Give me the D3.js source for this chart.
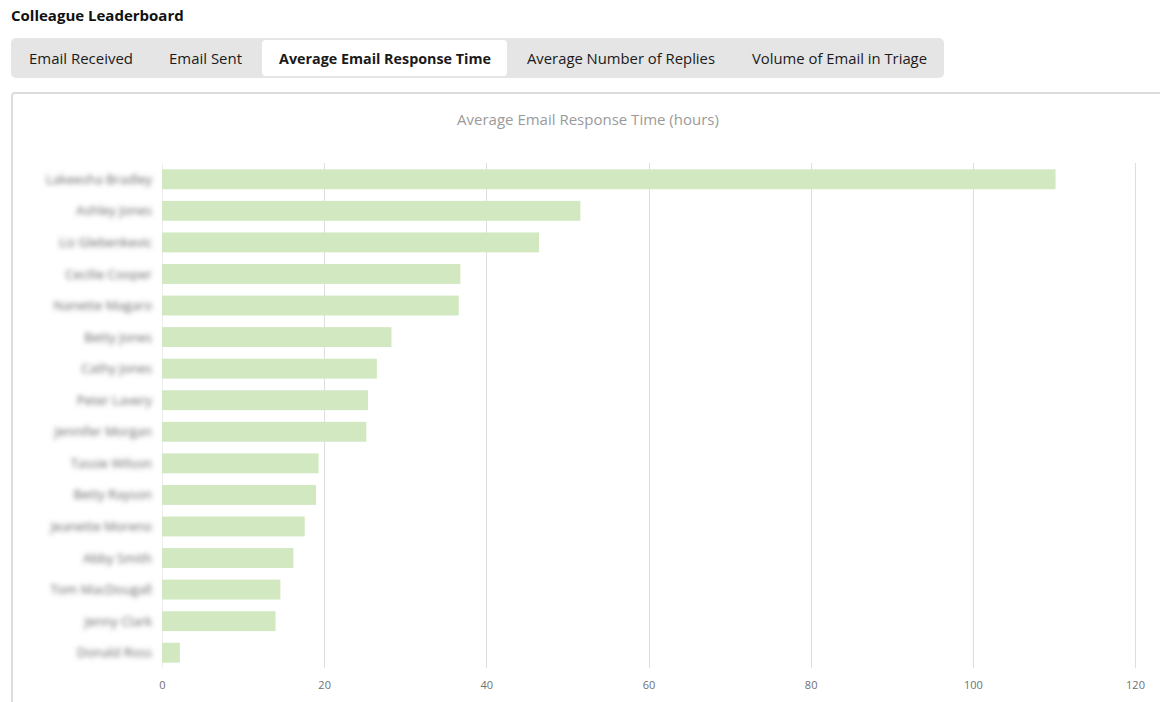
<!DOCTYPE html>
<html>
<head>
<meta charset="utf-8">
<script src="https://cdn.jsdelivr.net/npm/d3@7"></script>
<style>
  html, body { margin: 0; padding: 0; background: #fff; }
  body { width: 1160px; height: 702px; overflow: hidden; font-family: "Open Sans", "Noto Sans", sans-serif; }
</style>
</head>
<body>
<svg id="board" width="1160" height="702"></svg>
<script>
// chart data
var tabs = ['Email Received', 'Email Sent', 'Average Email Response Time', 'Average Number of Replies', 'Volume of Email in Triage'];
var activeTab = 'Average Email Response Time';
var colleagues = [
  'Lakeesha Bradley', 'Ashley Jones', 'Liz Glebenkevic', 'Cecilie Cooper',
  'Nanette Magaro', 'Betty Jones', 'Cathy Jones', 'Peter Lavery',
  'Jennifer Morgan', 'Tassie Wilson', 'Betty Rayson', 'Jeanette Moreno',
  'Abby Smith', 'Tom MacDougall', 'Jenny Clark', 'Donald Ross'
];
var responseHours = [110.2, 51.6, 46.5, 36.8, 36.6, 28.3, 26.5, 25.4, 25.2, 19.3, 19.0, 17.6, 16.2, 14.6, 14.0, 2.2];
var xTicks = [0, 20, 40, 60, 80, 100, 120];

var svg = d3.select('#board');

svg.append('defs')
  .append('filter')
  .attr('id', 'blur')
  .attr('x', '-20%').attr('y', '-100%')
  .attr('width', '140%').attr('height', '300%')
  .append('feGaussianBlur')
  .attr('stdDeviation', 2.6);

// header
svg.append('text')
  .attr('x', 11)
  .attr('y', 21)
  .style('font-size', '15px')
  .style('font-weight', 700)
  .style('fill', '#111')
  .text('Colleague Leaderboard');

// tab strip
var tabX = [29, 169, 279, 527, 752];
var tabWidths = [104, 73, 212, 188, 175];
var tabBg = svg.append('g');
tabBg.append('rect')
  .attr('x', 11).attr('y', 38)
  .attr('width', 933).attr('height', 40)
  .attr('rx', 5)
  .attr('fill', '#e5e5e5');
tabBg.append('rect')
  .attr('x', 262).attr('y', 40)
  .attr('width', 245).attr('height', 36)
  .attr('rx', 4)
  .attr('fill', '#fff');

svg.append('g')
  .selectAll('text')
  .data(tabs)
  .join('text')
  .attr('x', function (d, i) { return tabX[i]; })
  .attr('y', 64)
  .attr('textLength', function (d, i) { return tabWidths[i]; })
  .attr('lengthAdjust', 'spacingAndGlyphs')
  .style('font-size', '15px')
  .style('font-weight', function (d) { return d === activeTab ? 700 : 400; })
  .style('fill', '#1a1a1a')
  .text(function (d) { return d; });

// chart panel
svg.append('rect')
  .attr('x', 12).attr('y', 93)
  .attr('width', 1160).attr('height', 640)
  .attr('rx', 3)
  .attr('fill', '#fff')
  .attr('stroke', '#dcdcdc')
  .attr('stroke-width', 2);

svg.append('text')
  .attr('x', 588)
  .attr('y', 125)
  .attr('text-anchor', 'middle')
  .style('font-size', '15px')
  .style('fill', '#9a9a9a')
  .text('Average Email Response Time (hours)');

var x = d3.scaleLinear().domain([0, 120]).range([162, 1135]);
var y = d3.scaleBand().domain(colleagues).range([163.5, 668.5]).paddingInner(0.37).paddingOuter(0.185);

// gridlines
svg.append('g')
  .selectAll('line')
  .data(xTicks)
  .join('line')
  .attr('x1', function (d) { return Math.round(x(d)) + 0.5; })
  .attr('x2', function (d) { return Math.round(x(d)) + 0.5; })
  .attr('y1', 163)
  .attr('y2', 668)
  .attr('stroke', function (d) { return d === 0 ? '#eeeeee' : '#dedede'; })
  .attr('stroke-width', 1);

// bars
svg.append('g')
  .selectAll('rect')
  .data(responseHours)
  .join('rect')
  .attr('x', x(0))
  .attr('y', function (d, i) { return y(colleagues[i]); })
  .attr('width', function (d) { return x(d) - x(0); })
  .attr('height', y.bandwidth())
  .attr('fill', '#d1e8c1');

// names (blurred as in the original)
svg.append('g')
  .attr('filter', 'url(#blur)')
  .selectAll('text')
  .data(colleagues)
  .join('text')
  .attr('x', 152)
  .attr('y', function (d) { return y(d) + y.bandwidth() / 2; })
  .attr('dy', '0.35em')
  .attr('text-anchor', 'end')
  .style('font-size', '13px')
  .style('fill', '#666')
  .text(function (d) { return d; });

// x axis
var xAxis = d3.axisBottom(x).tickValues(xTicks).tickSize(0).tickPadding(0);
var axisG = svg.append('g')
  .attr('transform', 'translate(0,681)')
  .call(xAxis);
axisG.select('.domain').remove();
axisG.selectAll('text')
  .style('font-family', '"Open Sans", sans-serif')
  .style('font-size', '11px')
  .style('fill', '#707070');
</script>
</body>
</html>
